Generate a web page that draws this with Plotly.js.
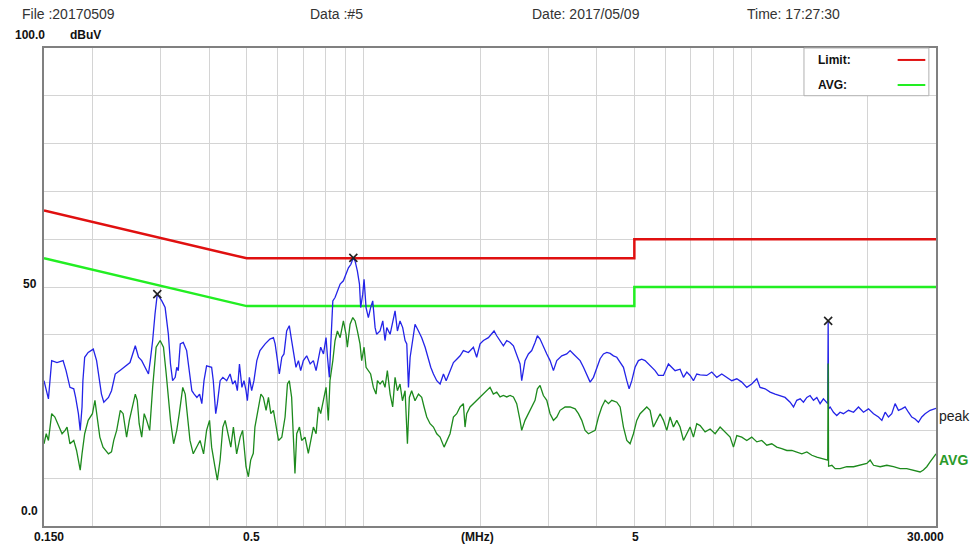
<!DOCTYPE html>
<html>
<head>
<meta charset="utf-8">
<script src="https://cdn.plot.ly/plotly-3.0.1.min.js"></script>
<style>
html,body{margin:0;padding:0;background:#fff;}
#chart{width:971px;height:548px;}
</style>
</head>
<body>
<div id="chart"></div>
<script>
// ---------- DATA ----------
const limitFreq = [0.15, 0.5, 5, 5, 30];
const limitQP   = [66, 56, 56, 60, 60];
const limitAV   = [56, 46, 46, 50, 50];

const peakFreq = [0.150,0.152,0.154,0.157,0.162,0.168,0.171,0.175,0.179,0.181,0.184,0.186,0.188,0.189,0.191,0.195,0.201,0.205,0.208,0.211,0.214,0.220,0.224,0.229,0.236,0.243,0.250,0.258,0.263,0.268,0.273,0.279,0.282,0.286,0.290,0.294,0.302,0.308,0.314,0.318,0.322,0.327,0.330,0.333,0.337,0.343,0.350,0.355,0.361,0.366,0.372,0.378,0.383,0.388,0.394,0.406,0.410,0.416,0.420,0.427,0.434,0.444,0.453,0.460,0.467,0.473,0.479,0.486,0.492,0.498,
0.502,0.508,0.515,0.522,0.531,0.541,0.558,0.574,0.586,0.592,0.600,0.607,0.616,0.624,0.634,0.644,0.653,0.662,0.670,0.680,0.689,0.700,0.714,0.729,0.743,0.755,0.766,0.776,0.789,0.801,0.808,0.817,0.824,0.834,0.845,0.857,0.871,0.888,0.902,0.915,0.928,0.942,0.952,0.965,0.977,0.984,0.996,1.004,1.016,1.030,1.044,1.057,1.072,1.082,1.104,1.122,1.137,1.149,1.172,1.190,1.207,1.224,1.243,1.263,1.281,1.294,1.307,1.320,1.341,1.359,1.387,1.414,1.443,1.472,1.492,1.516,1.546,1.577,1.609,1.635,1.667,
1.707,1.741,1.776,1.811,1.866,1.922,1.960,2.000,2.040,2.101,2.143,2.173,2.208,2.252,2.297,2.343,2.390,2.438,2.486,2.536,2.561,2.612,2.665,2.718,2.772,2.811,2.856,2.913,2.972,3.031,3.092,3.154,3.249,3.347,3.414,3.482,3.552,3.623,3.696,3.770,3.845,3.922,4.000,4.080,4.162,4.245,4.330,4.416,4.505,4.595,4.687,4.781,4.847,4.925,5.021,5.122,5.224,5.329,5.436,5.545,5.656,5.769,5.943,6.122,6.245,6.370,6.561,6.693,6.827,6.963,7.103,7.244,
7.390,7.688,7.920,8.159,8.404,8.658,8.919,9.188,9.465,9.750,10.04,10.35,10.55,10.87,11.20,11.54,11.89,12.24,12.61,12.87,13.12,13.39,13.65,13.93,14.20,14.49,14.78,15.07,15.37,15.68,15.77,15.81,15.85,16.00,16.32,16.64,16.97,17.31,17.84,18.38,18.93,19.50,20.09,20.70,21.32,21.75,22.18,22.62,23.07,23.53,24.00,24.48,24.97,25.47,25.98,26.50,27.03,27.57,28.12,28.97,29.85,30.0];
const peakLevel = [30.4,28.3,26.6,34.6,34.2,34.6,32.5,29.0,28.7,26.9,23.5,20.0,24.9,30.4,35.3,36.3,37.0,34.6,31.1,27.6,25.9,26.9,28.3,31.8,32.6,33.5,34.2,37.7,35.3,34.6,33.2,31.8,34.6,38.8,44.3,48.5,47.1,45.7,40.1,33.9,30.4,31.1,33.2,32.5,38.1,38.4,36.7,33.2,28.3,27.6,26.9,27.6,25.6,30.4,33.5,33.2,30.4,23.5,25.6,30.4,31.1,30.4,31.8,29.7,30.4,28.3,33.9,29.0,30.4,28.3,
26.2,31.1,28.3,30.4,34.6,36.7,38.1,39.1,39.4,38.1,34.6,31.8,35.3,36.0,40.8,41.9,38.8,35.3,33.2,34.6,32.5,34.6,35.6,33.9,34.6,32.5,35.3,37.4,36.0,39.4,35.3,31.1,38.1,47.1,47.8,49.2,50.6,51.3,52.6,54.0,54.7,56.1,55.4,53.3,50.6,45.7,48.5,51.6,45.7,43.6,45.7,47.1,41.5,40.1,40.8,42.9,38.8,41.5,40.1,42.9,45.0,40.8,42.9,41.5,38.8,38.1,29.0,35.3,39.4,42.2,40.8,39.4,37.4,34.6,33.2,31.8,30.4,29.7,31.8,30.4,32.2,
34.2,34.9,35.6,36.7,36.3,37.4,35.3,38.1,38.8,39.4,40.1,40.8,39.8,38.8,37.7,38.8,38.4,37.7,36.0,33.9,30.4,34.6,36.0,36.7,38.4,39.8,39.1,37.4,36.0,34.6,32.5,34.6,35.6,36.0,36.7,36.0,35.3,34.6,33.2,31.8,30.1,31.1,33.2,35.0,36.0,36.3,36.1,35.6,35.3,34.2,33.2,30.4,28.7,30.4,33.2,34.6,34.9,34.6,33.9,33.2,32.5,31.5,31.5,33.9,33.2,32.5,32.8,31.1,32.2,31.5,30.4,31.8,
31.6,31.5,32.2,31.1,31.8,31.1,30.4,30.8,30.1,29.0,29.7,30.8,29.0,28.7,28.0,27.6,27.3,26.9,25.9,24.9,26.3,26.6,25.9,26.9,27.3,26.3,26.9,25.6,26.6,25.9,25.6,42.9,24.5,24.9,23.8,23.1,23.8,23.5,24.2,23.8,24.9,23.8,24.5,23.5,22.8,22.1,23.8,22.8,23.5,25.6,24.2,24.5,24.9,23.8,22.8,22.4,21.7,22.8,23.5,24.2,24.5,24.6];

const avgFreq = [0.150,0.152,0.154,0.157,0.160,0.163,0.167,0.170,0.172,0.175,0.179,0.182,0.186,0.188,0.191,0.195,0.200,0.203,0.205,0.209,0.213,0.220,0.224,0.227,0.231,0.236,0.240,0.245,0.249,0.258,0.261,0.264,0.268,0.272,0.276,0.281,0.286,0.292,0.299,0.305,0.310,0.314,0.318,0.324,0.330,0.335,0.342,0.347,0.352,0.357,0.364,0.372,0.379,0.387,0.394,0.401,0.406,0.414,0.420,0.427,0.434,0.440,0.448,0.455,0.462,0.471,0.481,0.488,0.498,
0.505,0.512,0.520,0.525,0.536,0.544,0.552,0.561,0.569,0.577,0.586,0.595,0.604,0.616,0.628,0.637,0.644,0.653,0.660,0.666,0.673,0.684,0.693,0.707,0.721,0.732,0.743,0.755,0.766,0.776,0.789,0.801,0.812,0.820,0.834,0.845,0.857,0.871,0.888,0.902,0.909,0.924,0.939,0.952,0.965,0.980,0.990,1.004,1.016,1.030,1.044,1.061,1.078,1.087,1.104,1.122,1.137,1.153,1.172,1.190,1.207,1.224,1.243,1.261,1.281,1.299,1.314,1.332,1.359,1.387,1.414,1.434,1.457,1.486,1.516,1.546,1.577,1.615,1.641,
1.673,1.707,1.741,1.776,1.811,1.829,1.847,1.884,1.922,1.960,2.000,2.040,2.080,2.122,2.164,2.208,2.252,2.297,2.343,2.390,2.438,2.486,2.536,2.561,2.612,2.665,2.718,2.772,2.811,2.856,2.913,2.972,3.031,3.092,3.154,3.217,3.314,3.414,3.517,3.587,3.659,3.732,3.807,3.883,3.961,4.040,4.121,4.203,4.287,4.373,4.505,4.595,4.687,4.781,4.875,4.973,5.072,5.173,5.277,5.383,5.490,5.600,5.712,5.827,5.943,6.062,6.183,6.307,6.433,6.561,6.693,6.827,6.963,7.103,7.244,
7.390,7.612,7.843,8.079,8.322,8.572,8.831,9.008,9.188,9.465,9.750,10.04,10.35,10.66,10.98,11.31,11.65,12.00,12.37,12.74,13.12,13.52,13.93,14.35,14.78,15.22,15.68,15.77,15.81,15.85,16.16,16.48,16.97,17.66,18.38,19.11,19.89,20.29,20.70,21.53,22.40,23.30,24.24,25.22,26.24,27.30,27.84,28.40,28.97,29.55,30.0];
const avgLevel = [17.2,19.3,17.9,23.5,22.8,21.4,19.3,20.0,20.7,17.2,17.9,15.8,11.7,15.1,19.3,22.1,23.5,26.3,23.5,18.6,16.5,15.1,15.5,17.9,20.0,24.2,23.5,18.6,22.1,27.6,26.3,21.4,18.6,23.5,22.1,20.0,29.0,37.4,38.8,37.4,31.8,26.9,22.1,17.2,20.0,23.5,29.0,27.6,22.1,17.9,15.1,16.5,17.9,15.1,20.0,22.1,16.5,12.4,9.6,13.8,20.7,22.1,19.3,16.5,20.7,15.1,18.6,20.0,12.4,
10.3,13.8,15.2,20.7,24.9,27.6,26.9,24.2,26.9,23.5,24.2,20.7,17.9,18.6,22.8,29.7,30.4,26.9,17.9,11.0,19.3,20.7,17.9,18.6,15.2,17.9,20.7,19.3,24.9,23.5,26.2,29.0,22.1,30.4,34.6,38.8,40.8,39.4,42.9,40.1,37.4,42.2,43.6,42.9,40.8,38.1,34.6,37.4,33.2,32.5,31.8,29.0,27.6,30.4,29.7,30.4,29.0,32.5,27.6,24.9,31.1,28.3,29.7,26.2,28.3,17.2,26.9,28.3,26.2,27.6,26.9,24.9,22.8,21.4,20.7,19.3,18.6,16.5,17.9,
19.3,22.8,23.5,24.9,25.6,20.7,23.5,24.9,25.6,26.3,27.0,27.6,28.3,29.0,27.6,28.0,27.0,27.3,27.0,27.3,27.0,25.6,22.1,20.0,22.1,23.5,24.9,26.3,28.7,29.4,27.3,26.3,23.5,22.1,22.8,24.2,24.9,24.9,24.5,23.5,22.1,20.0,19.3,19.7,20.0,22.8,24.9,26.3,25.6,26.3,25.9,24.9,20.7,17.9,17.2,19.3,22.1,23.5,24.2,24.9,24.2,20.7,22.1,23.5,22.1,20.0,22.8,20.7,22.1,20.7,17.9,19.3,20.7,18.6,21.4,
21.0,19.7,20.3,19.3,20.7,19.7,18.6,16.5,18.9,18.6,17.9,18.6,17.6,17.9,16.9,17.2,16.5,16.2,15.8,15.8,15.5,15.1,15.5,14.8,14.4,14.1,13.8,13.8,34.0,12.5,12.7,12.0,12.0,12.4,12.4,12.7,13.1,13.8,12.7,12.4,12.7,12.4,12.0,12.0,11.7,11.3,11.7,12.4,13.4,14.4,15.1];

const markFreq  = [0.294, 0.942, 15.81];
const markLevel = [48.5, 56.1, 42.9];

const gridFreq = [0.2,0.3,0.4,0.5,0.6,0.7,0.8,0.9,1,2,3,4,5,6,7,8,9,10,20,30];
const xTickVals = [0.15, 0.5, 2, 5, 30];
const xTickText = ["0.150", "0.5", "(MHz)", "5", "30.000"];
const yTickVals = [100, 50, 0];
const yTickText = ["100.0", "50", "0.0"];

const headerText = ["File :20170509", "Data :#5", "Date: 2017/05/09", "Time: 17:27:30"];

// ---------- STYLE / LAYOUT ----------
const xShift = [5, 5, -3, 1, -11];
const yShift = [13, 3, 15];
const yXShift = [3, -5, -4];
const headerX = [-0.0269, 0.296, 0.5448, 0.7859];

const traces = [
  {x: limitFreq, y: limitQP, mode: 'lines', line: {color: '#e01010', width: 2.5}, hoverinfo: 'skip'},
  {x: limitFreq, y: limitAV, mode: 'lines', line: {color: '#22ee22', width: 2.5}, hoverinfo: 'skip'},
  {x: peakFreq, y: peakLevel, mode: 'lines', line: {color: '#2424e8', width: 1.3}},
  {x: avgFreq, y: avgLevel, mode: 'lines', line: {color: '#1d8a1d', width: 1.3}},
  {x: markFreq, y: markLevel, mode: 'markers', marker: {symbol: 'x-thin-open', size: 8, color: '#222222', line: {color: '#222222', width: 1.6}}}
];

const ann = [];
xTickVals.forEach((v, i) => ann.push({
  xref: 'x', yref: 'paper', x: Math.log10(v), y: 0, yshift: -11, xshift: xShift[i],
  text: xTickText[i], showarrow: false, xanchor: 'center', yanchor: 'middle',
  font: {family: 'Liberation Sans, Arial', size: 12, color: '#111', weight: 'bold'}
}));
yTickVals.forEach((v, i) => ann.push({
  xref: 'paper', yref: 'y', x: 0, y: v, xshift: yXShift[i], yshift: yShift[i],
  text: yTickText[i], showarrow: false, xanchor: 'right', yanchor: 'middle',
  font: {family: 'Liberation Sans, Arial', size: 12, color: '#111', weight: 'bold'}
}));
ann.push({xref: 'paper', yref: 'y', x: 0.0269, y: 100, yshift: 13, text: 'dBuV', showarrow: false,
  xanchor: 'left', yanchor: 'middle', font: {family: 'Liberation Sans, Arial', size: 12, color: '#111', weight: 'bold'}});
headerText.forEach((t, i) => ann.push({
  xref: 'paper', yref: 'paper', x: headerX[i], y: 1.0711, text: t, showarrow: false,
  xanchor: 'left', yanchor: 'middle', font: {family: 'Liberation Sans, Arial', size: 14, color: '#333'}
}));
ann.push({xref: 'paper', yref: 'y', x: 1, y: peakLevel[peakLevel.length - 1] - 1.6, xshift: 1, text: 'peak', showarrow: false,
  xanchor: 'left', yanchor: 'middle', font: {family: 'Liberation Sans, Arial', size: 14, color: '#222'}});
ann.push({xref: 'paper', yref: 'y', x: 1, y: avgLevel[avgLevel.length - 1] - 1.3, xshift: 1, text: 'AVG', showarrow: false,
  xanchor: 'left', yanchor: 'middle', font: {family: 'Liberation Sans, Arial', size: 14, color: '#2a9a2a', weight: 'bold'}});
ann.push({xref: 'paper', yref: 'paper', x: 0.8655, y: 0.975, text: 'Limit:', showarrow: false,
  xanchor: 'left', yanchor: 'middle', font: {family: 'Liberation Sans, Arial', size: 12, color: '#111', weight: 'bold'}});
ann.push({xref: 'paper', yref: 'paper', x: 0.8655, y: 0.9226, text: 'AVG:', showarrow: false,
  xanchor: 'left', yanchor: 'middle', font: {family: 'Liberation Sans, Arial', size: 12, color: '#111', weight: 'bold'}});

const shapes = [
  {type: 'rect', xref: 'paper', yref: 'paper', x0: 0.852, x1: 0.992, y0: 0.9002, y1: 1.0,
   fillcolor: '#ffffff', line: {color: '#b0b0b0', width: 1}, layer: 'above'},
  {type: 'line', xref: 'paper', yref: 'paper', x0: 0.957, x1: 0.988, y0: 0.975, y1: 0.975,
   line: {color: '#e01010', width: 2}, layer: 'above'},
  {type: 'line', xref: 'paper', yref: 'paper', x0: 0.957, x1: 0.988, y0: 0.9226, y1: 0.9226,
   line: {color: '#22ee22', width: 2}, layer: 'above'}
];

const layout = {
  width: 971, height: 548,
  margin: {l: 44, r: 35, t: 48, b: 22},
  paper_bgcolor: '#ffffff', plot_bgcolor: '#ffffff',
  showlegend: false,
  xaxis: {
    type: 'log', range: [Math.log10(0.15), Math.log10(30)],
    tickvals: gridFreq, showticklabels: false, ticks: '',
    showgrid: true, gridcolor: '#d4d4d4', gridwidth: 1,
    showline: true, mirror: true, linecolor: '#808080', linewidth: 2, zeroline: false
  },
  yaxis: {
    range: [0, 100], dtick: 10, showticklabels: false, ticks: '',
    showgrid: true, gridcolor: '#d4d4d4', gridwidth: 1,
    showline: true, mirror: true, linecolor: '#808080', linewidth: 2, zeroline: false
  },
  annotations: ann,
  shapes: shapes
};

Plotly.newPlot('chart', traces, layout, {displayModeBar: false, staticPlot: true});
</script>
</body>
</html>
